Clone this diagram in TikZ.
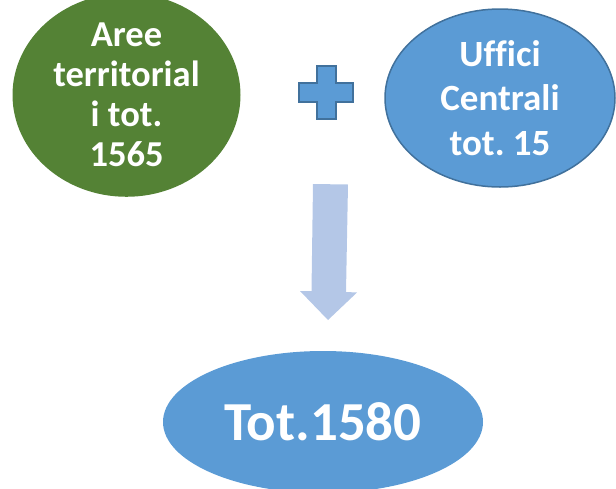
\documentclass[tikz,border=0pt]{standalone}
\usepackage{fontspec}
\setmainfont[Ligatures={NoCommon}]{Carlito}
\usetikzlibrary{shapes.geometric}
\frenchspacing
\definecolor{greenfill}{HTML}{548235}
\definecolor{bluefill}{HTML}{5B9BD5}
\definecolor{blueline}{HTML}{41719C}
\definecolor{arrowfill}{HTML}{B4C7E7}
\tikzset{
  oval/.style={ellipse, inner sep=0pt, align=center, text=white, font=\bfseries},
}
\begin{document}
\begin{tikzpicture}[x=1pt,y=-1pt]
\useasboundingbox (0,0) rectangle (616,488);
\node[oval, fill=greenfill, minimum width=228, minimum height=174,
  font=\bfseries\fontsize{36.5}{40}\selectfont] (aree) at (126.5,95)
  {Aree\\territorial\\i tot.\\1565};
\node[oval, fill=bluefill, draw=blueline, line width=1.5pt, minimum width=230, minimum height=178,
  font=\bfseries\fontsize{37}{44.5}\selectfont] (uffici) at (500,98)
  {Uffici\\Centrali\\tot. 15};
\node[oval, fill=bluefill, minimum width=320, minimum height=142,
  font=\bfseries\fontsize{55}{60}\selectfont] (tot) at (323,422) {Tot.1580};
% plus sign
\draw[fill=bluefill, draw=blueline, line width=1.5pt]
  (317,66) -- (336,66) -- (336,83) -- (353,83) -- (353,102) -- (336,102)
  -- (336,119) -- (317,119) -- (317,102) -- (299,102) -- (299,83) -- (317,83) -- cycle;
% block arrow
\fill[arrowfill] (313,184) -- (348,184.5) -- (346,292) -- (357,292.5) -- (328,320)
  -- (300,291) -- (311.5,291) -- cycle;
\end{tikzpicture}
\end{document}
